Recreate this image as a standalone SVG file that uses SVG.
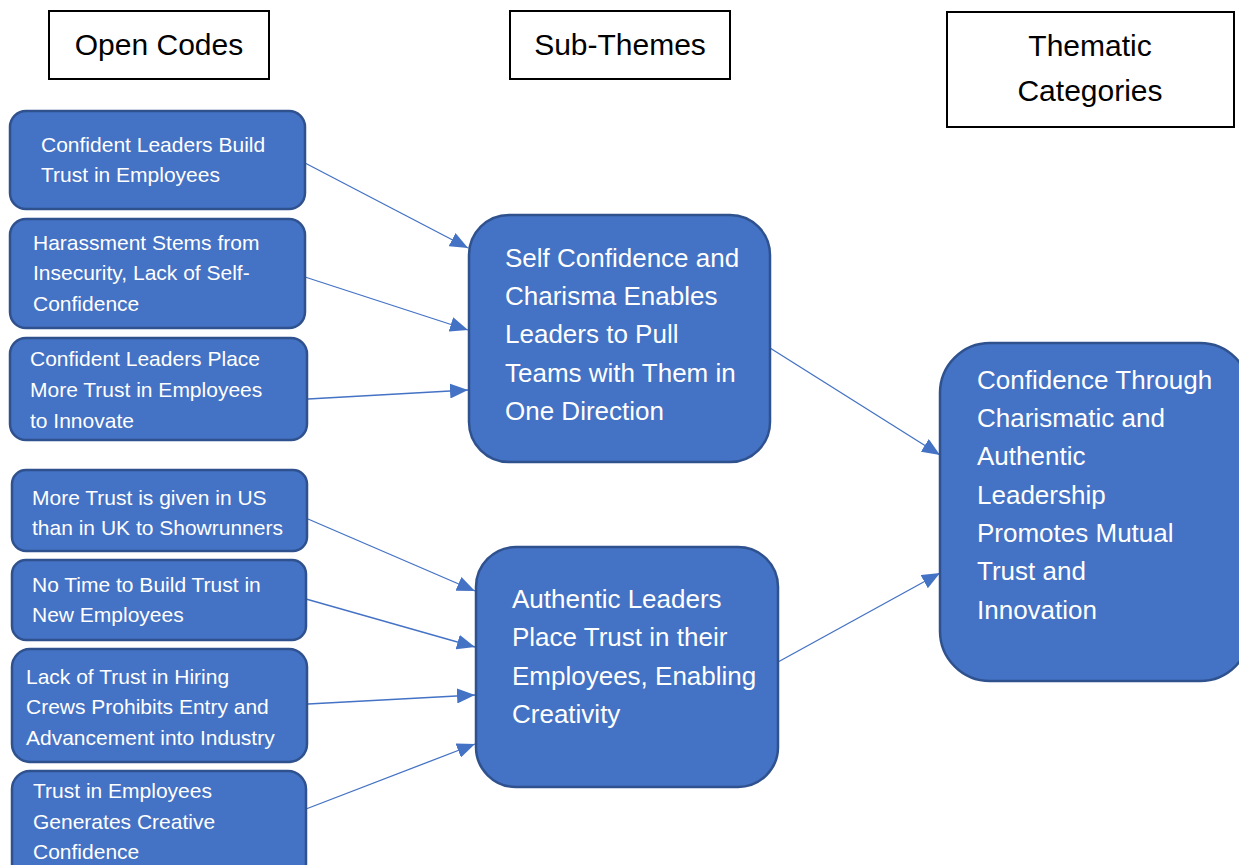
<svg xmlns="http://www.w3.org/2000/svg" width="1239" height="865" viewBox="0 0 1239 865">
<defs>
<style>
.hdr{fill:#fff;stroke:#000;stroke-width:2}
.hdrt{font-family:"Liberation Sans",Arial,sans-serif;font-size:30px;fill:#000;text-anchor:middle}
.nd{fill:#4472C4;stroke:#2F528F;stroke-width:2.5}
.t{font-family:"Liberation Sans",Arial,sans-serif;font-size:21px;fill:#fff}
.tb{font-family:"Liberation Sans",Arial,sans-serif;font-size:26px;fill:#fff}
.c{stroke:#4472C4;stroke-width:1.3;fill:none;marker-end:url(#ah)}
</style>
<marker id="ah" markerUnits="userSpaceOnUse" markerWidth="18" markerHeight="15" refX="18" refY="7.5" orient="auto">
<path d="M0,0 L18,7.5 L0,15 Z" fill="#4472C4"/>
</marker>
</defs>
<rect width="1239" height="865" fill="#fff"/>
<g id="h1"><rect class="hdr" x="49" y="11" width="220" height="68"/><text class="hdrt" x="159" y="55">Open Codes</text></g>
<g id="h2"><rect class="hdr" x="510" y="11" width="220" height="68"/><text class="hdrt" x="620" y="55">Sub-Themes</text></g>
<g id="h3"><rect class="hdr" x="947" y="12" width="287" height="115"/><text class="hdrt" x="1090" y="56">Thematic</text><text class="hdrt" x="1090" y="101">Categories</text></g>

<g id="connectors">
<line class="c" x1="305" y1="163" x2="468" y2="248"/>
<line class="c" x1="305" y1="277" x2="468" y2="330"/>
<line class="c" x1="308" y1="399" x2="468" y2="390"/>
<line class="c" x1="308" y1="519" x2="475" y2="591"/>
<line class="c" x1="306" y1="599" x2="475" y2="647"/>
<line class="c" x1="308" y1="704" x2="475" y2="695"/>
<line class="c" x1="306" y1="809" x2="475" y2="744"/>
<line class="c" x1="770" y1="348" x2="940" y2="455"/>
<line class="c" x1="778" y1="662" x2="940" y2="573"/>
</g>

<g id="n1"><rect class="nd" x="10" y="111" width="295" height="98" rx="16"/><text class="t" x="41" y="152">Confident Leaders Build</text><text class="t" x="41" y="182">Trust in Employees</text></g>
<g id="n2"><rect class="nd" x="10" y="219" width="295" height="109" rx="16"/><text class="t" x="33" y="250">Harassment Stems from</text><text class="t" x="33" y="280">Insecurity, Lack of Self-</text><text class="t" x="33" y="311">Confidence</text></g>
<g id="n3"><rect class="nd" x="10" y="338" width="297" height="102" rx="16"/><text class="t" x="30" y="366">Confident Leaders Place</text><text class="t" x="30" y="397">More Trust in Employees</text><text class="t" x="30" y="428">to Innovate</text></g>
<g id="n4"><rect class="nd" x="12" y="470" width="295" height="81" rx="14"/><text class="t" x="32" y="505">More Trust is given in US</text><text class="t" x="32" y="535">than in UK to Showrunners</text></g>
<g id="n5"><rect class="nd" x="12" y="560" width="294" height="80" rx="14"/><text class="t" x="32" y="592">No Time to Build Trust in</text><text class="t" x="32" y="622">New Employees</text></g>
<g id="n6"><rect class="nd" x="12" y="649" width="295" height="113" rx="18"/><text class="t" x="26" y="684">Lack of Trust in Hiring</text><text class="t" x="26" y="714">Crews Prohibits Entry and</text><text class="t" x="26" y="745">Advancement into Industry</text></g>
<g id="n7"><rect class="nd" x="12" y="771" width="294" height="110" rx="18"/><text class="t" x="33" y="798">Trust in Employees</text><text class="t" x="33" y="829">Generates Creative</text><text class="t" x="33" y="859">Confidence</text></g>

<g id="m1"><rect class="nd" x="469" y="215" width="301" height="247" rx="40"/><text class="tb" x="505" y="267">Self Confidence and</text><text class="tb" x="505" y="305">Charisma Enables</text><text class="tb" x="505" y="343">Leaders to Pull</text><text class="tb" x="505" y="382">Teams with Them in</text><text class="tb" x="505" y="420">One Direction</text></g>
<g id="m2"><rect class="nd" x="476" y="547" width="302" height="240" rx="40"/><text class="tb" x="512" y="608">Authentic Leaders</text><text class="tb" x="512" y="646">Place Trust in their</text><text class="tb" x="512" y="685">Employees, Enabling</text><text class="tb" x="512" y="723">Creativity</text></g>

<g id="r1"><rect class="nd" x="940" y="343" width="310" height="338" rx="50"/><text class="tb" x="977" y="389">Confidence Through</text><text class="tb" x="977" y="427">Charismatic and</text><text class="tb" x="977" y="465">Authentic</text><text class="tb" x="977" y="504">Leadership</text><text class="tb" x="977" y="542">Promotes Mutual</text><text class="tb" x="977" y="580">Trust and</text><text class="tb" x="977" y="619">Innovation</text></g>
</svg>
